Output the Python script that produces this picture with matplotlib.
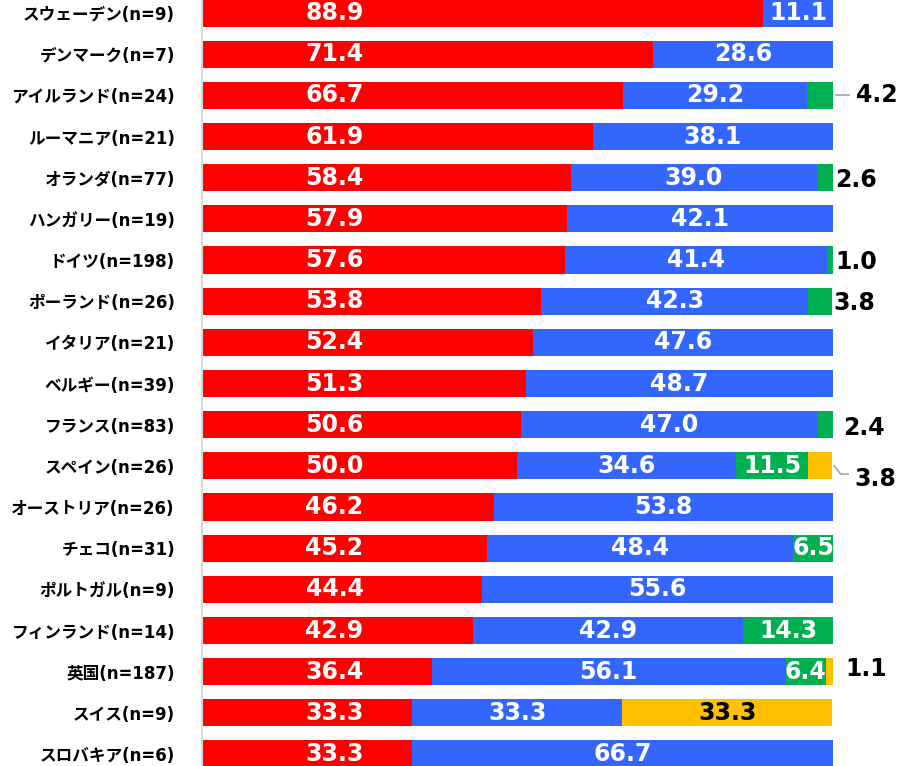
import matplotlib.pyplot as plt
import numpy as np

plt.rcParams['font.family'] = ['DejaVu Sans', 'Noto Sans CJK JP']

countries = ["スウェーデン(n=9)", "デンマーク(n=7)", "アイルランド(n=24)", "ルーマニア(n=21)",
             "オランダ(n=77)", "ハンガリー(n=19)", "ドイツ(n=198)", "ポーランド(n=26)",
             "イタリア(n=21)", "ベルギー(n=39)", "フランス(n=83)", "スペイン(n=26)",
             "オーストリア(n=26)", "チェコ(n=31)", "ポルトガル(n=9)", "フィンランド(n=14)",
             "英国(n=187)", "スイス(n=9)", "スロバキア(n=6)"]
red = [88.9, 71.4, 66.7, 61.9, 58.4, 57.9, 57.6, 53.8, 52.4, 51.3, 50.6, 50.0,
       46.2, 45.2, 44.4, 42.9, 36.4, 33.3, 33.3]
blue = [11.1, 28.6, 29.2, 38.1, 39.0, 42.1, 41.4, 42.3, 47.6, 48.7, 47.0, 34.6,
        53.8, 48.4, 55.6, 42.9, 56.1, 33.3, 66.7]
green = [0, 0, 4.2, 0, 2.6, 0, 1.0, 3.8, 0, 0, 2.4, 11.5,
         0, 6.5, 0, 14.3, 6.4, 0, 0]
yellow = [0, 0, 0, 0, 0, 0, 0, 0, 0, 0, 0, 3.8,
          0, 0, 0, 0, 1.1, 33.3, 0]

series = [red, blue, green, yellow]
colors = ["#FF0000", "#3366FF", "#00B050", "#FFC000"]
txt_colors = ["white", "white", "white", "black"]

fig = plt.figure(figsize=(9.04, 7.66), dpi=100)
ax = fig.add_axes([202/904, 0, 631/904, 1])

fs = 17
y = np.arange(len(countries))
left = np.zeros(len(countries))
for k, (vals, c, tc) in enumerate(zip(series, colors, txt_colors)):
    vals = np.array(vals)
    ax.barh(y, vals, left=left, height=0.66, color=c)
    for i, v in enumerate(vals):
        if v >= 5:
            # red labels sit at a fixed spot near the left
            xpos = 21 if k == 0 else left[i] + v/2
            ax.text(xpos, y[i], f"{v:.1f}", ha="center", va="center",
                    color=tc, fontsize=fs, fontweight="bold")
    left += vals

# small values outside the bars
ax.plot([100.5, 102.6], [2, 2], color="#A6A6A6", lw=1.2, clip_on=False)
ax.text(103.6, 2, "4.2", ha="left", va="center", fontsize=fs, fontweight="bold", clip_on=False)
ax.text(100.3, 4.05, "2.6", ha="left", va="center", fontsize=fs, fontweight="bold", clip_on=False)
ax.text(100.3, 6.05, "1.0", ha="left", va="center", fontsize=fs, fontweight="bold", clip_on=False)
ax.text(100.1, 7.05, "3.8", ha="left", va="center", fontsize=fs, fontweight="bold", clip_on=False)
ax.text(101.6, 10.08, "2.4", ha="left", va="center", fontsize=fs, fontweight="bold", clip_on=False)
ax.plot([100.2, 101.2, 102.4], [11.0, 11.2, 11.2], color="#A6A6A6", lw=1.2, clip_on=False)
ax.text(103.4, 11.33, "3.8", ha="left", va="center", fontsize=fs, fontweight="bold", clip_on=False)
ax.text(101.9, 15.93, "1.1", ha="left", va="center", fontsize=fs, fontweight="bold", clip_on=False)

ax.set_xlim(0, 100)
ax.set_ylim(18.29, -0.316)
ax.set_yticks(y)
ax.set_yticklabels(countries, fontsize=12, fontweight="bold")
ax.tick_params(axis="y", length=0, pad=19.5)
ax.set_xticks([])
for s in ["top", "right", "bottom"]:
    ax.spines[s].set_visible(False)
ax.spines["left"].set_color("#D9D9D9")
ax.spines["left"].set_linewidth(1.5)

fig.savefig("out.png", dpi=100)
